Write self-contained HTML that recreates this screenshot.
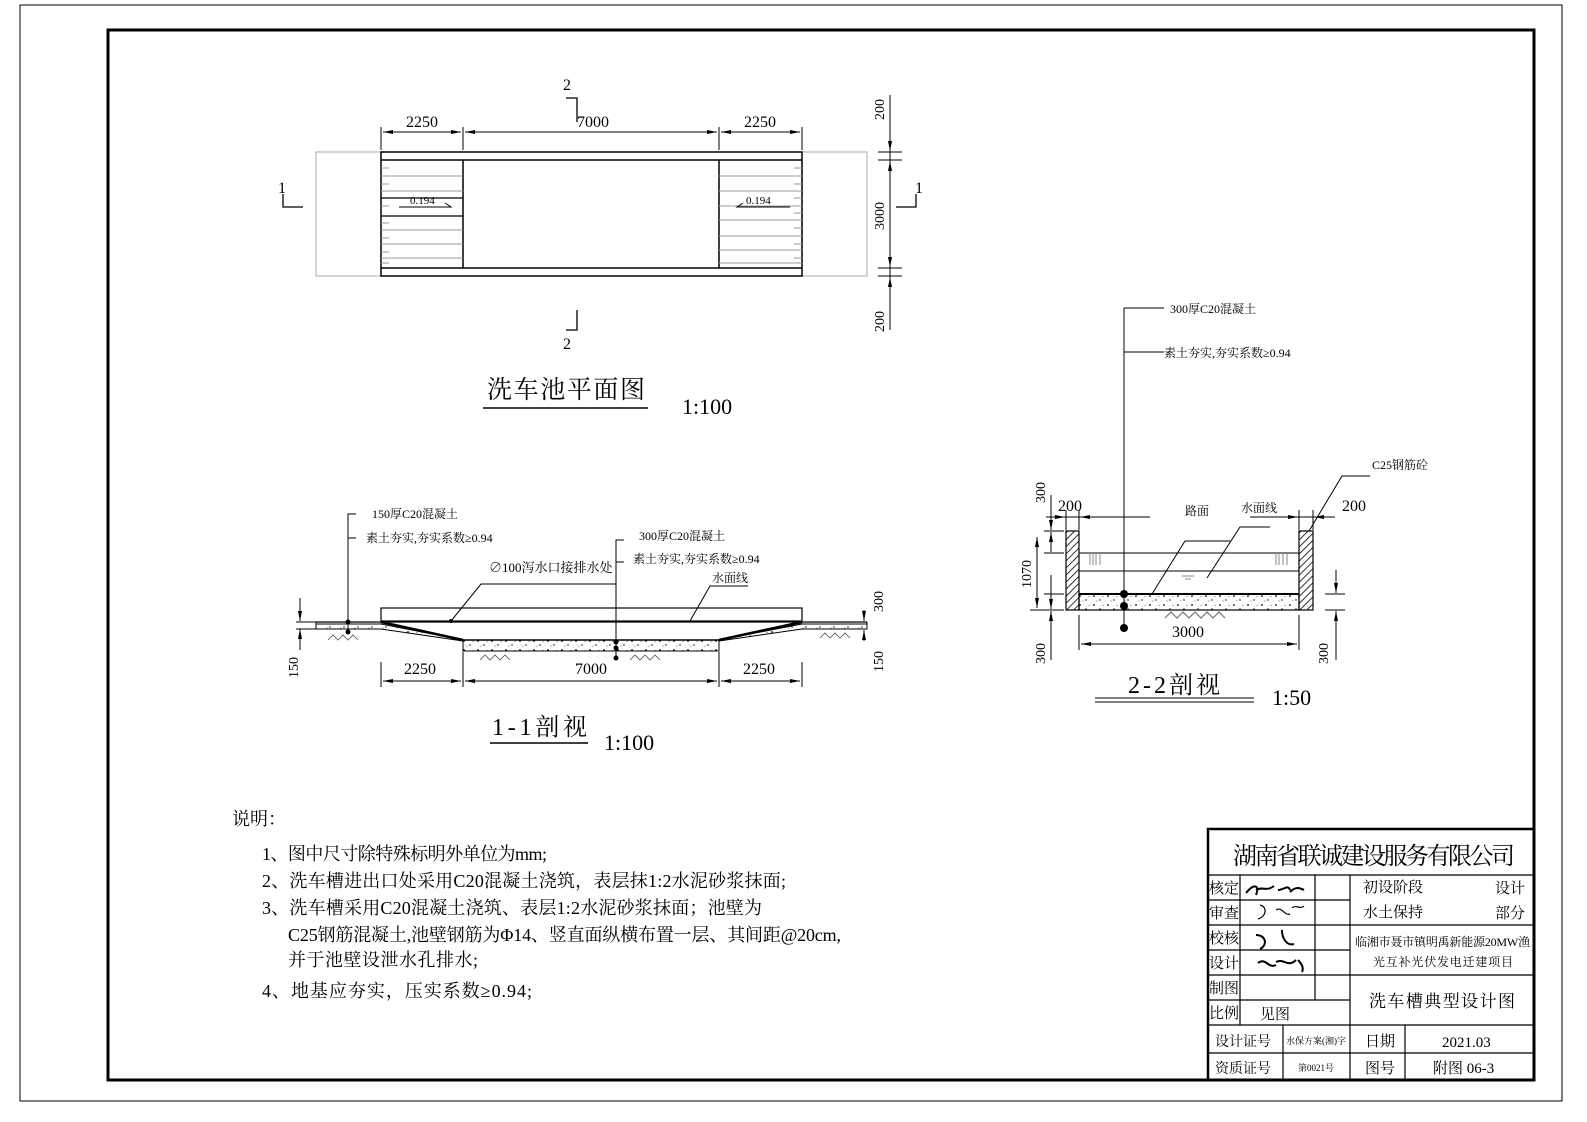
<!DOCTYPE html>
<html><head><meta charset="utf-8"><style>
html,body{margin:0;padding:0;background:#fff}
svg{display:block}
text{font-family:"Liberation Serif","Noto Serif CJK SC",serif;fill:#000}
</style></head><body>
<svg width="1587" height="1122" viewBox="0 0 1587 1122" xmlns="http://www.w3.org/2000/svg">
<defs>
<pattern id="hat" width="5" height="5" patternUnits="userSpaceOnUse" patternTransform="rotate(45)"><line x1="0" y1="0" x2="0" y2="5" stroke="#000" stroke-width="1.6"/></pattern>
<pattern id="dots" width="14" height="9" patternUnits="userSpaceOnUse"><circle cx="2" cy="2" r="0.9" fill="#000"/><circle cx="8" cy="6" r="0.7" fill="#000"/><circle cx="11" cy="2.5" r="0.5" fill="#333"/><circle cx="5" cy="7" r="0.5" fill="#333"/></pattern>
<marker id="ar" viewBox="0 0 10 6" refX="10" refY="3" markerWidth="10" markerHeight="6" orient="auto-start-reverse"><path d="M0,1 L10,3 L0,5Z" fill="#000"/></marker>
</defs>
<rect x="20" y="5" width="1542" height="1096" fill="none" stroke="#000" stroke-width="1"/>
<rect x="108" y="30" width="1426" height="1050" fill="none" stroke="#000" stroke-width="3"/>

<!-- PLAN VIEW -->
<g stroke="#000" fill="none">
<rect x="316" y="152" width="551" height="124" stroke="#aaa"/>
<rect x="381" y="152" width="421" height="124" stroke-width="1.5"/>
<line x1="381" y1="160" x2="802" y2="160" stroke-width="1.5"/>
<line x1="381" y1="268" x2="802" y2="268" stroke-width="1.5"/>
<line x1="463" y1="160" x2="463" y2="268" stroke-width="1.5"/>
<line x1="719" y1="160" x2="719" y2="268" stroke-width="1.5"/>
<line x1="381" y1="198" x2="463" y2="198" stroke-width="1.2"/>
<line x1="381" y1="216" x2="463" y2="216" stroke-width="1.2"/>
</g>
<g stroke="#999" stroke-width="1">
<path d="M381 168h8M381 176h82M381 184h8M381 191h82M381 206h8M381 223h8M381 230h82M381 238h8M381 244h82M381 252h8M381 258h82M381 263h8"/>
<path d="M794 168h8M719 176h83M794 184h8M719 191h83M794 198h8M719 206h83M794 213h8M719 220h83M794 228h8M719 236h83M794 244h8M719 250h83M794 258h8M719 263h83"/>
</g>
<g stroke="#000" stroke-width="1" fill="none">
<path d="M399 207h52l-6-4"/><path d="M790 207h-53l6-4"/>
</g>
<text x="410" y="204" font-size="11">0.194</text><text x="746" y="204" font-size="11">0.194</text>
<g stroke="#000" stroke-width="1.3" fill="none">
<path d="M283 194v13h20"/><path d="M896 207h20v-13"/>
<path d="M566 98h11v24"/><path d="M566 330h11v-20"/>
</g>
<text x="278" y="193" font-size="16">1</text><text x="915" y="193" font-size="16">1</text>
<text x="563" y="90" font-size="16">2</text><text x="563" y="349" font-size="16">2</text>
<g stroke="#000" stroke-width="1" fill="none">
<line x1="381" y1="127" x2="381" y2="150"/><line x1="463" y1="127" x2="463" y2="150"/><line x1="719" y1="127" x2="719" y2="150"/><line x1="802" y1="127" x2="802" y2="150"/>
<line x1="383" y1="132" x2="461" y2="132" marker-start="url(#ar)" marker-end="url(#ar)"/>
<line x1="465" y1="132" x2="717" y2="132" marker-start="url(#ar)" marker-end="url(#ar)"/>
<line x1="721" y1="132" x2="800" y2="132" marker-start="url(#ar)" marker-end="url(#ar)"/>
<line x1="890" y1="95" x2="890" y2="330"/>
<line x1="878" y1="152" x2="902" y2="152"/><line x1="878" y1="160" x2="902" y2="160"/><line x1="878" y1="268" x2="902" y2="268"/><line x1="878" y1="276" x2="902" y2="276"/>
<line x1="890" y1="140" x2="890" y2="151" marker-end="url(#ar)"/>
<line x1="890" y1="172" x2="890" y2="161" marker-end="url(#ar)"/>
<line x1="890" y1="257" x2="890" y2="267" marker-end="url(#ar)"/>
<line x1="890" y1="288" x2="890" y2="277" marker-end="url(#ar)"/>
</g>
<text x="406" y="127" font-size="16">2250</text><text x="577" y="127" font-size="16">7000</text><text x="744" y="127" font-size="16">2250</text>
<text font-size="14" transform="translate(884,120) rotate(-90)">200</text>
<text font-size="14" transform="translate(884,230) rotate(-90)">3000</text>
<text font-size="14" transform="translate(884,332) rotate(-90)">200</text>
<text x="487" y="398" font-size="25" font-family="Noto Sans CJK SC,sans-serif" textLength="158">洗车池平面图</text>
<line x1="483" y1="408" x2="648" y2="408" stroke="#000" stroke-width="1.5"/>
<text x="682" y="414" font-size="22">1:100</text>

<!-- SECTION 1-1 -->
<g stroke="#000" fill="none">
<rect x="381" y="608" width="421" height="13" stroke-width="1.2"/>
<line x1="316" y1="622" x2="867" y2="622" stroke-width="1.2"/>
<path d="M316 622v7h65" stroke-width="1"/>
<path d="M867 622v7h-65" stroke-width="1"/>
</g>
<path d="M316 624h65l82 16h256l83-16h65v5h-65l-83 12v10h-256v-10l-82-12h-65z" fill="url(#dots)" stroke="#000" stroke-width="1"/>
<path d="M381 622l82 18M719 640l83-18" stroke="#000" stroke-width="2.5"/>
<line x1="463" y1="640" x2="719" y2="640" stroke="#000" stroke-width="1.5"/>
<g stroke="#555" stroke-width="0.8" fill="none">
<path d="M328 640l5-5 5 5 5-5 5 5 5-5 5 5"/><path d="M480 660l5-5 5 5 5-5 5 5 5-5 5 5"/><path d="M630 660l5-5 5 5 5-5 5 5 5-5 5 5"/><path d="M820 638l5-5 5 5 5-5 5 5 5-5 5 5"/>
</g>
<g stroke="#000" stroke-width="1" fill="none">
<path d="M348 633V514h8M348 538h8"/>
<path d="M616 660V540h8M616 562h8"/>
<path d="M451 621l30-37h135"/>
<path d="M690 621l20-35h38"/>
<line x1="300" y1="598" x2="300" y2="621" marker-end="url(#ar)"/>
<line x1="300" y1="650" x2="300" y2="629" marker-end="url(#ar)"/>
<line x1="296" y1="622" x2="316" y2="622"/><line x1="296" y1="629" x2="316" y2="629"/>
<line x1="864" y1="610" x2="864" y2="621" marker-end="url(#ar)"/>
<line x1="864" y1="641" x2="864" y2="630" marker-end="url(#ar)"/>
<line x1="381" y1="662" x2="381" y2="687"/><line x1="463" y1="652" x2="463" y2="687"/><line x1="719" y1="652" x2="719" y2="687"/><line x1="802" y1="662" x2="802" y2="687"/>
<line x1="383" y1="681" x2="461" y2="681" marker-start="url(#ar)" marker-end="url(#ar)"/>
<line x1="465" y1="681" x2="717" y2="681" marker-start="url(#ar)" marker-end="url(#ar)"/>
<line x1="721" y1="681" x2="800" y2="681" marker-start="url(#ar)" marker-end="url(#ar)"/>
</g>
<g fill="#000"><circle cx="348" cy="622" r="2.5"/><circle cx="348" cy="632" r="2.5"/><circle cx="616" cy="642" r="2.5"/><circle cx="616" cy="648" r="2.5"/><circle cx="616" cy="658" r="2.5"/><circle cx="451" cy="621" r="2"/></g>
<text x="372" y="518" font-size="12">150厚C20混凝土</text>
<text x="366" y="542" font-size="12">素土夯实,夯实系数≥0.94</text>
<text x="639" y="540" font-size="12">300厚C20混凝土</text>
<text x="633" y="563" font-size="12">素土夯实,夯实系数≥0.94</text>
<text x="489" y="572" font-size="13">∅100泻水口接排水处</text>
<text x="712" y="582" font-size="12">水面线</text>
<text font-size="14" transform="translate(298,678) rotate(-90)">150</text>
<text font-size="14" transform="translate(883,612) rotate(-90)">300</text>
<text font-size="14" transform="translate(883,672) rotate(-90)">150</text>
<text x="404" y="674" font-size="16">2250</text><text x="575" y="674" font-size="16">7000</text><text x="743" y="674" font-size="16">2250</text>
<text x="492" y="735" font-size="24" font-family="Noto Sans CJK SC,sans-serif" textLength="95">1-1剖视</text>
<line x1="490" y1="743" x2="588" y2="743" stroke="#000" stroke-width="1.5"/>
<text x="604" y="750" font-size="22">1:100</text>

<!-- SECTION 2-2 -->
<rect x="1066" y="531" width="13" height="79" fill="url(#hat)" stroke="#000" stroke-width="1.2"/>
<rect x="1299" y="531" width="14" height="79" fill="url(#hat)" stroke="#000" stroke-width="1.2"/>
<rect x="1079" y="594" width="220" height="16" fill="url(#dots)" stroke="#000" stroke-width="1.2"/>
<line x1="1079" y1="594" x2="1299" y2="594" stroke="#000" stroke-width="2"/>
<g stroke="#000" stroke-width="1" fill="none">
<line x1="1079" y1="553" x2="1299" y2="553"/><line x1="1079" y1="571" x2="1299" y2="571"/>
<path d="M1093 554v11M1096 554v11M1100 554v11M1090 554v11" stroke="#888"/>
<path d="M1276 554v11M1279 554v11M1283 554v11M1287 554v11" stroke="#888"/>
<path d="M1182 576h12M1185 579h6" stroke="#888"/>
<path d="M1165 618l6-6 6 6 6-6 6 6 6-6 6 6 6-6 6 6 6-6 6 6" stroke="#666"/>
<line x1="1124" y1="630" x2="1124" y2="308"/><path d="M1124 308h40M1124 352h40"/>
<path d="M1152 594l33-53h45"/><path d="M1207 578l33-51h30"/>
<path d="M1309 531l33-55h28"/>
<line x1="1051" y1="495" x2="1051" y2="530" marker-end="url(#ar)"/>
<line x1="1051" y1="552" x2="1051" y2="532" marker-end="url(#ar)"/>
<line x1="1051" y1="575" x2="1051" y2="609" marker-end="url(#ar)"/>
<line x1="1051" y1="660" x2="1051" y2="611" marker-end="url(#ar)"/>
<line x1="1044" y1="531" x2="1064" y2="531"/><line x1="1044" y1="553" x2="1064" y2="553"/><line x1="1044" y1="594" x2="1064" y2="594"/><line x1="1044" y1="610" x2="1064" y2="610"/>
<line x1="1046" y1="517" x2="1150" y2="517"/>
<line x1="1048" y1="517" x2="1065" y2="517" marker-end="url(#ar)"/>
<line x1="1095" y1="517" x2="1080" y2="517" marker-end="url(#ar)"/>
<line x1="1066" y1="510" x2="1066" y2="530"/><line x1="1079" y1="510" x2="1079" y2="530"/>
<line x1="1250" y1="517" x2="1335" y2="517"/>
<line x1="1280" y1="517" x2="1298" y2="517" marker-end="url(#ar)"/>
<line x1="1335" y1="517" x2="1314" y2="517" marker-end="url(#ar)"/>
<line x1="1299" y1="510" x2="1299" y2="530"/><line x1="1313" y1="510" x2="1313" y2="530"/>
<line x1="1037" y1="537" x2="1037" y2="608" marker-start="url(#ar)" marker-end="url(#ar)"/>
<line x1="1030" y1="610" x2="1064" y2="610"/>
<line x1="1079" y1="615" x2="1079" y2="650"/><line x1="1299" y1="615" x2="1299" y2="650"/>
<line x1="1081" y1="644" x2="1297" y2="644" marker-start="url(#ar)" marker-end="url(#ar)"/>
<line x1="1336" y1="570" x2="1336" y2="593" marker-end="url(#ar)"/>
<line x1="1336" y1="660" x2="1336" y2="611" marker-end="url(#ar)"/>
<line x1="1325" y1="594" x2="1345" y2="594"/><line x1="1325" y1="610" x2="1345" y2="610"/>
</g>
<g fill="#000"><circle cx="1124" cy="594" r="4"/><circle cx="1124" cy="606" r="4"/><circle cx="1124" cy="628" r="4"/></g>
<text x="1170" y="313" font-size="12">300厚C20混凝土</text>
<text x="1164" y="357" font-size="12">素土夯实,夯实系数≥0.94</text>
<text x="1372" y="469" font-size="12">C25钢筋砼</text>
<text x="1185" y="515" font-size="12">路面</text><text x="1241" y="512" font-size="12">水面线</text>
<text x="1058" y="511" font-size="16">200</text><text x="1342" y="511" font-size="16">200</text>
<text x="1172" y="637" font-size="16">3000</text>
<text font-size="14" transform="translate(1045,503) rotate(-90)">300</text>
<text font-size="14" transform="translate(1031,588) rotate(-90)">1070</text>
<text font-size="14" transform="translate(1045,664) rotate(-90)">300</text>
<text font-size="14" transform="translate(1328,664) rotate(-90)">300</text>
<text x="1128" y="693" font-size="24" font-family="Noto Sans CJK SC,sans-serif" textLength="92">2-2剖视</text>
<line x1="1095" y1="698" x2="1254" y2="698" stroke="#000" stroke-width="1"/>
<line x1="1095" y1="702" x2="1254" y2="702" stroke="#000" stroke-width="1"/>
<text x="1272" y="705" font-size="22">1:50</text>

<!-- NOTES -->
<g font-family="Noto Serif CJK SC,serif" font-size="18">
<text x="232" y="825">说明：</text>
<text x="262" y="860" textLength="285">1、图中尺寸除特殊标明外单位为mm;</text>
<text x="262" y="887" textLength="524">2、洗车槽进出口处采用C20混凝土浇筑，表层抹1:2水泥砂浆抹面;</text>
<text x="262" y="914" textLength="500">3、洗车槽采用C20混凝土浇筑、表层1:2水泥砂浆抹面；池壁为</text>
<text x="288" y="941" textLength="553">C25钢筋混凝土,池壁钢筋为Φ14、竖直面纵横布置一层、其间距@20cm,</text>
<text x="288" y="966" textLength="190">并于池壁设泄水孔排水;</text>
<text x="262" y="997" textLength="270">4、地基应夯实，压实系数≥0.94;</text>
</g>

<!-- TITLE BLOCK -->
<g stroke="#000" fill="none" stroke-width="1.2">
<rect x="1208" y="829" width="326" height="251" stroke-width="2.5"/>
<line x1="1208" y1="875" x2="1534" y2="875"/>
<path d="M1208 900h142M1208 925h326M1208 950h142M1208 975h142M1208 1000h142M1350 975h184M1208 1025h326M1208 1053h326"/>
<path d="M1240 875v150M1315 875v125M1350 875v205M1283 1025v55M1405 1025v55"/>
</g>
<g font-family="Noto Serif CJK SC,serif">
<text x="1233" y="864" font-size="24" textLength="282">湖南省联诚建设服务有限公司</text>
<g font-size="15"><text x="1209" y="893">核定</text><text x="1209" y="918">审查</text><text x="1209" y="943">校核</text><text x="1209" y="968">设计</text><text x="1209" y="993">制图</text><text x="1209" y="1018">比例</text></g>
<text x="1260" y="1019" font-size="15">见图</text>
<text x="1363" y="892" font-size="15">初设阶段</text><text x="1495" y="893" font-size="15">设计</text>
<text x="1363" y="917" font-size="15">水土保持</text><text x="1495" y="918" font-size="15">部分</text>
<text x="1355" y="946" font-size="12" textLength="175">临湘市聂市镇明禹新能源20MW渔</text>
<text x="1373" y="966" font-size="12" textLength="140">光互补光伏发电迁建项目</text>
<text x="1369" y="1007" font-size="17" textLength="146">洗车槽典型设计图</text>
<text x="1215" y="1046" font-size="14">设计证号</text><text x="1215" y="1073" font-size="14">资质证号</text>
<text x="1286" y="1044" font-size="9">水保方案(湘)字</text><text x="1298" y="1071" font-size="9">第0021号</text>
<text x="1365" y="1046" font-size="15">日期</text><text x="1365" y="1073" font-size="15">图号</text>
<text x="1442" y="1047" font-size="15">2021.03</text><text x="1433" y="1073" font-size="15">附图 06-3</text>
</g>
<g stroke="#000" stroke-width="2" fill="none">
<path d="M1246 893c8-10 14-8 10 2M1256 890c6-4 10 2 18-4M1278 890c6 0 10-6 12 0M1290 892c6-6 10-4 14-2"/>
<path d="M1260 905c8 2 6 12-2 14M1276 910c6-4 8 6 14 4M1292 908c4-4 8 2 12-2" stroke-width="1.2"/>
<path d="M1256 935c10 0 12 10 4 14M1282 930c0 10 6 16 12 14"/>
<path d="M1258 963c8-6 10 6 18 2M1276 962c8-4 12 6 20-2M1298 960c4 4 6 8 4 12"/>
</g>
</svg>
</body></html>
